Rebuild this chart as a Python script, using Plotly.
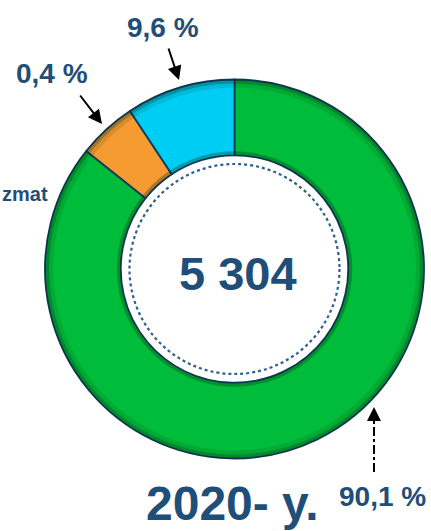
import plotly.graph_objects as go

W, H = 431, 531

# Data, drawn clockwise from 12 o'clock
categories = ["Green segment", "Orange segment", "Cyan segment"]
slice_values = [85.7, 5.0, 9.3]              # visual slice sizes
slice_labels = ["90,1 %", "0,4 %", "9,6 %"]  # printed labels
total_value = "5 304"
year_label = "2020- y."
side_label = "zmat"

colors = ["#00BC3B", "#F59B32", "#00CDF4"]
TXT = "#1F4E79"
FONT = "Liberation Sans, Arial, sans-serif"


def px(x):
    return x / W


def py(y):
    return 1 - y / H


cx, cy, R = 234.5, 269, 189.5

fig = go.Figure()
fig.add_trace(go.Pie(
    labels=categories,
    values=slice_values,
    hole=0.6,
    sort=False,
    direction="clockwise",
    rotation=0,
    textinfo="none",
    hoverinfo="label+percent",
    marker=dict(colors=colors, line=dict(color="#123a5a", width=1.8)),
    domain=dict(x=[px(cx - R), px(cx + R)], y=[py(cy + R), py(cy - R)]),
    showlegend=False,
))

shapes = []
# bevel shading rings
for r, w, a in [(R - 2, 4, 0.35), (R - 6, 4, 0.12), (R * 0.6 + 2, 4, 0.3)]:
    shapes.append(dict(type="circle", xref="paper", yref="paper",
                       x0=px(cx - r), x1=px(cx + r), y0=py(cy + r), y1=py(cy - r),
                       line=dict(color=f"rgba(0,40,20,{a})", width=w)))
# dotted inner circle
rd = 105
shapes.append(dict(type="circle", xref="paper", yref="paper",
                   x0=px(cx - rd), x1=px(cx + rd), y0=py(cy + rd), y1=py(cy - rd),
                   line=dict(color="#2E5F8F", width=2.2, dash="dot")))
# dash-dot stem of 90,1 % arrow
shapes.append(dict(type="line", xref="paper", yref="paper",
                   x0=px(374), x1=px(374), y0=py(472), y1=py(418),
                   line=dict(color="black", width=2, dash="dashdot")))


def label(text, x, y, size, xanchor="center"):
    return dict(text=f"<b>{text}</b>", x=px(x), y=py(y), xref="paper", yref="paper",
                xanchor=xanchor, yanchor="middle", showarrow=False,
                font=dict(size=size, color=TXT, family=FONT))


annotations = [
    label(total_value, 238, 273, 47),
    label(year_label, 232, 503, 48),
    label(slice_labels[2], 163, 28, 28),
    label(slice_labels[1], 52, 73, 28),
    label(slice_labels[0], 382, 496, 28),
    label(side_label, 0, 194, 20, xanchor="left"),
    # arrows
    dict(text="", x=px(179), y=py(80), xref="paper", yref="paper", showarrow=True,
         ax=-11, ay=-33, arrowhead=2, arrowsize=1.4, arrowwidth=2, arrowcolor="black"),
    dict(text="", x=px(102), y=py(124), xref="paper", yref="paper", showarrow=True,
         ax=-23, ay=-30, arrowhead=2, arrowsize=1.4, arrowwidth=2, arrowcolor="black"),
    dict(text="", x=px(374), y=py(407), xref="paper", yref="paper", showarrow=True,
         ax=0, ay=14, arrowhead=2, arrowsize=1.4, arrowwidth=2, arrowcolor="black"),
]

fig.update_layout(
    width=W, height=H,
    margin=dict(l=0, r=0, t=0, b=0),
    paper_bgcolor="white", plot_bgcolor="white",
    shapes=shapes, annotations=annotations,
)

fig.write_html("out.html", config={"displayModeBar": False},
               post_script="document.body.style.margin='0';")
